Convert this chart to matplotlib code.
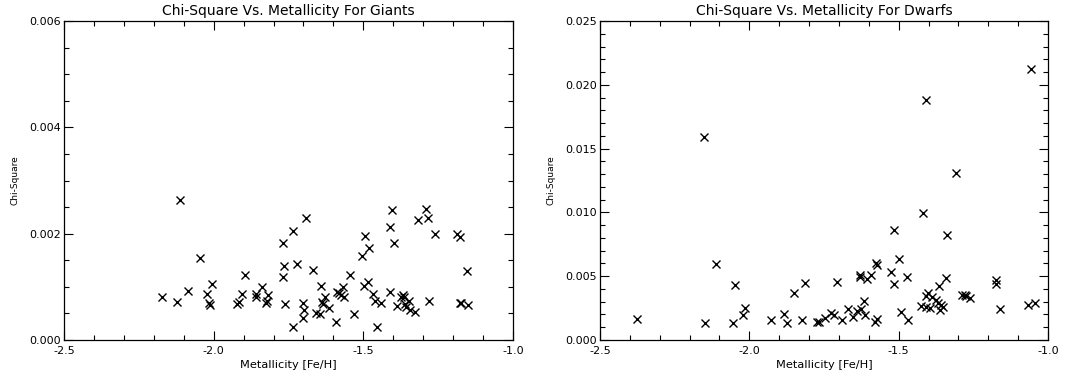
import matplotlib
matplotlib.use("Agg")
import matplotlib.pyplot as plt
from matplotlib.ticker import MultipleLocator, FormatStrFormatter

giant_feh = [-2.174, -2.122, -2.113, -2.085, -2.046, -2.022, -2.015, -2.013, -2.007,
             -1.921, -1.916, -1.907, -1.896, -1.859, -1.857, -1.840, -1.826, -1.821,
             -1.818, -1.770, -1.770, -1.766, -1.762, -1.734, -1.734, -1.721, -1.692,
             -1.701, -1.699, -1.701, -1.668, -1.657, -1.645, -1.641, -1.638, -1.634,
             -1.629, -1.615, -1.592, -1.588, -1.581, -1.573, -1.568, -1.565, -1.545,
             -1.532, -1.506, -1.499, -1.493, -1.484, -1.481, -1.467, -1.462, -1.456,
             -1.442, -1.412, -1.410, -1.403, -1.397, -1.389, -1.373, -1.367, -1.365,
             -1.362, -1.356, -1.348, -1.345, -1.328, -1.317, -1.292, -1.282, -1.283,
             -1.262, -1.187, -1.176, -1.178, -1.173, -1.154, -1.150]
giant_chi2 = [0.00080, 0.00072, 0.00264, 0.00092, 0.00155, 0.00086, 0.00069, 0.00065, 0.00105,
              0.00067, 0.00072, 0.00086, 0.00122, 0.00086, 0.00080, 0.00099, 0.00069, 0.00073,
              0.00085, 0.00183, 0.00118, 0.00139, 0.00067, 0.00205, 0.00024, 0.00143, 0.00229,
              0.00069, 0.00056, 0.00042, 0.00132, 0.00050, 0.00049, 0.00102, 0.00071, 0.00067,
              0.00081, 0.00061, 0.00033, 0.00090, 0.00088, 0.00085, 0.00099, 0.00081, 0.00122,
              0.00049, 0.00158, 0.00102, 0.00196, 0.00110, 0.00173, 0.00086, 0.00073, 0.00025,
              0.00069, 0.00213, 0.00091, 0.00244, 0.00182, 0.00064, 0.00081, 0.00085, 0.00080,
              0.00068, 0.00063, 0.00073, 0.00056, 0.00053, 0.00225, 0.00246, 0.00073, 0.00229,
              0.00199, 0.00199, 0.00193, 0.00069, 0.00069, 0.00130, 0.00066]

dwarf_feh = [-2.377, -2.151, -2.149, -2.113, -2.054, -2.048, -2.020, -2.014, -1.928,
             -1.884, -1.875, -1.851, -1.823, -1.813, -1.775, -1.766, -1.747, -1.728,
             -1.716, -1.706, -1.689, -1.669, -1.652, -1.638, -1.630, -1.628, -1.625,
             -1.613, -1.616, -1.605, -1.593, -1.580, -1.577, -1.572, -1.572, -1.526,
             -1.516, -1.516, -1.499, -1.491, -1.472, -1.469, -1.425, -1.420, -1.410,
             -1.408, -1.407, -1.402, -1.396, -1.390, -1.374, -1.366, -1.368, -1.363,
             -1.357, -1.351, -1.342, -1.338, -1.309, -1.287, -1.279, -1.273, -1.262,
             -1.175, -1.173, -1.162, -1.067, -1.056, -1.045]
dwarf_chi2 = [0.00162, 0.01587, 0.00136, 0.00592, 0.00136, 0.00431, 0.00196, 0.00248, 0.00157,
              0.00204, 0.00130, 0.00371, 0.00157, 0.00444, 0.00144, 0.00138, 0.00170, 0.00214,
              0.00196, 0.00451, 0.00157, 0.00240, 0.00183, 0.00230, 0.00509, 0.00496, 0.00240,
              0.00196, 0.00305, 0.00475, 0.00509, 0.00144, 0.00600, 0.00164, 0.00587, 0.00535,
              0.00861, 0.00436, 0.00632, 0.00217, 0.00491, 0.00157, 0.00266, 0.00997, 0.00344,
              0.00261, 0.01879, 0.00371, 0.00248, 0.00339, 0.00313, 0.00423, 0.00287, 0.00235,
              0.00274, 0.00256, 0.00483, 0.00822, 0.01310, 0.00352, 0.00352, 0.00344, 0.00326,
              0.00470, 0.00438, 0.00243, 0.00274, 0.02127, 0.00287]

titles = ["Chi-Square Vs. Metallicity For Giants", "Chi-Square Vs. Metallicity For Dwarfs"]
xlabel = "Metallicity [Fe/H]"
ylabel = "Chi-Square"

fig = plt.figure(figsize=(10.67, 3.79), dpi=100)
ax1 = fig.add_axes([64/1067, 39/379, 449/1067, 319/379])
ax2 = fig.add_axes([600/1067, 39/379, 448/1067, 319/379])

panels = [
    (ax1, giant_feh, giant_chi2, 0.006, 0.002, 0.0005),
    (ax2, dwarf_feh, dwarf_chi2, 0.025, 0.005, 0.001),
]
for (ax, xs, ys, ymax, ymaj, ymin), title in zip(panels, titles):
    ax.plot(xs, ys, linestyle='none', marker='x', color='black', markersize=5.5, markeredgewidth=1.0)
    ax.set_xlim(-2.5, -1.0)
    ax.set_ylim(0, ymax)
    ax.xaxis.set_major_locator(MultipleLocator(0.5))
    ax.xaxis.set_minor_locator(MultipleLocator(0.1))
    ax.yaxis.set_major_locator(MultipleLocator(ymaj))
    ax.yaxis.set_minor_locator(MultipleLocator(ymin))
    ax.xaxis.set_major_formatter(FormatStrFormatter('%.1f'))
    ax.yaxis.set_major_formatter(FormatStrFormatter('%.3f'))
    ax.tick_params(which='both', direction='in', top=True, right=True, labelsize=8, colors='black', width=0.8)
    ax.tick_params(which='major', length=6.5)
    ax.tick_params(which='minor', length=3.5)
    ax.tick_params(axis='x', pad=4)
    ax.tick_params(axis='y', pad=2)
    for s in ax.spines.values():
        s.set_linewidth(0.9)
    ax.set_title(title, fontsize=10, pad=4)
    ax.set_xlabel(xlabel, fontsize=8.2, labelpad=3)
    ax.set_ylabel(ylabel, fontsize=6.5, labelpad=7)

fig.savefig("out.png", dpi=100)
